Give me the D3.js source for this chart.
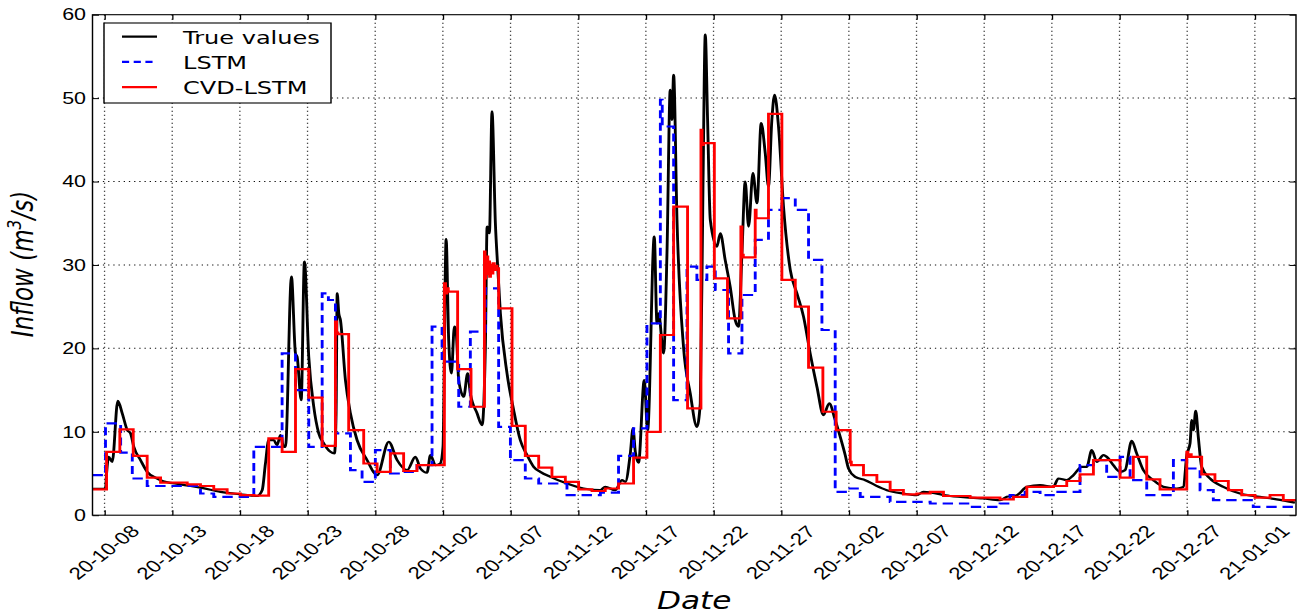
<!DOCTYPE html>
<html>
<head>
<meta charset="utf-8">
<script src="https://cdn.jsdelivr.net/npm/d3@7"></script>
<style>
  body { margin: 0; background: #fff; }
  svg { display: block; }
</style>
</head>
<body>
<svg id="chart"></svg>
<script>
// values: [day offset from 2020-10-07, inflow]
const trueSeries = [
  [0.11,3.15],[1.07,3.15],[1.15,5.0],[1.30,7.0],[1.57,6.4],[1.98,13.7],[2.31,12.2],[2.68,10.2],[2.92,9.8],[3.16,8.2],
  [3.66,6.6],[4.15,5.2],[4.89,4.4],[5.14,4.2],[6.61,3.7],[8.09,3.3],[9.57,2.8],[11.04,2.5],[12.28,2.3],[12.65,3.0],
  [12.89,6.2],[13.13,9.0],[13.50,9.0],[13.75,8.4],[14.00,9.6],[14.24,8.2],[14.37,8.2],[14.81,28.6],[15.11,19.4],[15.23,19.0],
  [15.53,13.8],[15.77,30.4],[16.09,19.0],[16.46,13.0],[16.83,9.8],[17.20,8.6],[17.69,7.6],[17.99,7.4],[18.11,12.2],[18.19,26.6],
  [18.31,24.2],[18.43,23.4],[18.80,16.2],[19.17,12.2],[19.66,9.0],[20.40,6.6],[21.14,4.8],[22.00,8.8],[22.62,6.6],[23.36,5.4],
  [23.97,7.0],[24.34,5.6],[24.83,5.1],[25.08,7.2],[25.45,6.0],[25.81,6.2],[26.01,8.2],[26.24,33.1],[26.43,21.0],[26.63,17.0],
  [26.85,22.6],[26.97,22.2],[27.17,16.2],[27.54,14.2],[27.83,17.0],[28.03,14.6],[28.53,12.2],[28.90,10.8],[29.14,20.2],[29.27,34.6],
  [29.44,33.8],[29.63,48.4],[29.88,35.0],[30.05,29.8],[30.25,24.2],[30.74,17.0],[31.23,12.6],[31.72,9.0],[32.22,7.2],[32.71,5.8],
  [33.20,5.2],[33.94,4.6],[35.17,3.8],[36.40,3.2],[37.63,3.0],[38.00,3.4],[38.74,3.0],[39.24,4.2],[39.48,4.0],[39.85,7.4],
  [40.05,10.4],[40.22,7.6],[40.46,6.3],[40.88,16.2],[41.13,10.2],[41.62,33.4],[41.82,23.0],[41.94,24.2],[42.31,19.4],[42.56,31.4],
  [42.80,51.0],[42.93,47.4],[43.05,52.8],[43.30,35.4],[43.78,20.2],[44.28,14.6],[44.77,10.6],[45.02,13.4],[45.22,39.4],[45.39,57.6],
  [45.56,47.4],[45.76,35.4],[46.25,32.2],[46.50,33.8],[46.86,30.6],[47.23,27.4],[47.60,23.4],[47.85,22.6],[48.10,31.4],[48.34,40.0],
  [48.59,34.6],[48.91,41.0],[49.21,37.4],[49.52,47.0],[49.82,43.4],[50.06,39.4],[50.31,47.4],[50.51,50.4],[50.80,46.6],[51.17,37.0],
  [51.67,29.4],[52.16,26.6],[52.65,23.8],[53.14,19.4],[53.64,15.4],[54.12,12.0],[54.55,13.4],[54.99,11.4],[55.36,9.4],[55.73,7.2],
  [55.97,5.6],[56.47,4.6],[57.21,4.2],[57.94,3.6],[58.81,3.0],[60.03,2.6],[61.02,2.4],[61.51,2.8],[63.48,2.3],[65.94,2.0],
  [67.17,1.8],[67.67,2.2],[68.41,2.4],[69.15,3.4],[70.13,3.6],[71.11,3.4],[71.48,4.4],[72.10,4.2],[72.59,4.8],[73.21,5.8],
  [73.58,5.8],[73.95,7.8],[74.32,6.4],[74.81,7.2],[75.18,6.8],[75.54,6.0],[76.04,5.2],[76.41,5.4],[76.90,8.9],[77.27,7.4],
  [77.76,5.4],[78.50,4.2],[79.24,3.4],[80.23,3.2],[80.72,3.4],[80.97,7.2],[81.21,8.6],[81.34,11.4],[81.46,10.2],[81.63,12.5],
  [81.82,9.4],[82.07,5.8],[82.68,4.4],[83.67,3.4],[84.90,2.6],[86.37,2.2],[87.61,1.9],[88.96,1.5]
];

// step series: [start day, value]
const lstmSteps = [
  [0.11,4.8],[1.07,11.0],[2.19,7.5],[3.05,4.4],[4.15,3.5],[8.09,2.6],[9.07,2.2],[12.03,8.2],[14.12,19.4],[15.11,15.0],
  [16.09,8.2],[17.08,26.6],[17.54,25.8],[18.06,9.8],[19.17,5.4],[20.03,4.0],[21.01,7.8],[22.12,5.0],[23.10,5.2],[24.09,6.0],
  [25.20,22.6],[25.94,18.4],[27.17,13.0],[28.03,22.0],[29.14,27.2],[30.12,10.6],[30.99,6.6],[32.09,4.4],[33.08,3.8],[35.17,2.4],
  [37.64,2.7],[38.98,7.1],[40.09,10.4],[41.08,23.0],[42.07,49.8],[42.21,46.6],[43.05,13.8],[44.04,29.8],[44.77,28.2],[45.51,29.8],
  [46.13,27.0],[47.11,19.4],[48.10,26.4],[49.08,33.0],[50.06,36.6],[51.05,38.0],[52.04,36.6],[53.02,30.6],[54.01,22.2],[54.99,2.8],
  [55.95,3.2],[56.84,2.2],[59.05,1.6],[62.01,1.4],[64.96,1.0],[67.17,1.4],[67.91,2.4],[69.02,2.8],[70.13,2.4],[71.11,2.8],
  [73.08,6.0],[74.07,6.6],[75.05,4.6],[76.04,7.0],[76.78,4.2],[78.01,2.4],[79.98,6.6],[80.97,5.6],[81.95,3.0],[82.93,1.8],
  [85.88,1.0],[89.04,1.0]
];

const cvdSteps = [
  [0.11,3.1],[1.15,7.6],[2.13,10.3],[3.12,7.1],[4.15,4.5],[5.14,3.9],[7.11,3.7],[8.09,3.5],[9.07,3.1],[10.06,2.6],
  [11.04,2.4],[12.03,2.35],[13.13,9.2],[14.12,7.6],[15.11,17.5],[16.09,14.1],[17.08,8.3],[18.06,23.2],[18.15,21.9],[18.25,21.7],
  [19.04,10.2],[20.15,6.2],[21.14,5.2],[22.12,7.4],[23.10,5.3],[24.09,6.0],[25.08,6.0],[26.11,27.8],[26.2,26.6],[26.3,27.2],
  [26.4,26.8],[27.09,17.5],[28.08,13.0],[29.07,31.6],[29.12,28.4],[29.17,30.8],[29.22,28.9],[29.27,31.0],[29.32,29.2],[29.38,30.4],
  [29.45,28.6],[29.52,30.0],[29.6,29.0],[29.7,30.2],[29.8,29.4],[29.9,29.9],[30.0,29.6],[30.12,24.8],[31.11,10.7],[32.09,7.1],
  [33.08,5.7],[34.06,4.6],[35.05,4.0],[36.03,3.1],[37.02,2.9],[38.00,3.2],[38.98,3.8],[40.09,6.9],[41.08,10.0],[42.07,21.6],
  [43.05,37.0],[44.08,12.8],[45.07,46.2],[45.15,44.4],[45.25,44.6],[46.06,28.4],[47.03,23.6],[48.02,34.6],[48.1,31.2],[48.2,30.9],
  [49.08,36.6],[49.15,35.6],[50.06,48.1],[51.05,28.2],[52.04,25.0],[53.02,17.7],[54.08,12.4],[55.06,10.2],[56.10,6.4],[56.18,6.0],
  [57.08,4.8],[58.07,4.0],[59.05,3.0],[60.03,2.5],[61.02,2.6],[62.01,2.8],[62.99,2.3],[64.96,2.1],[67.17,1.9],[68.16,2.2],
  [69.15,3.4],[71.11,3.5],[72.10,4.1],[73.08,4.9],[74.07,6.6],[76.04,4.5],[77.02,7.0],[78.01,4.3],[78.99,3.1],[80.97,7.6],
  [81.05,7.0],[81.15,7.3],[81.3,7.0],[82.07,4.9],[83.05,4.1],[84.04,3.0],[85.03,2.4],[86.01,2.1],[87.12,2.4],[88.10,1.8],
  [89.04,1.8]
];

const tickDates = ["2020-10-08","2020-10-13","2020-10-18","2020-10-23","2020-10-28","2020-11-02","2020-11-07",
  "2020-11-12","2020-11-17","2020-11-22","2020-11-27","2020-12-02","2020-12-07","2020-12-12","2020-12-17",
  "2020-12-22","2020-12-27","2021-01-01"];
const yTicks = [0, 10, 20, 30, 40, 50, 60];
const legendNames = ["True values", "LSTM", "CVD-LSTM"];

const W = 1304, H = 616;
const stretch = 1.3; // the original picture is widened horizontally
const plotLeft = 92.5 / stretch, plotRight = 1296 / stretch, plotTop = 14.7, plotBottom = 515.2;

const base = Date.UTC(2020, 9, 7);
const toDate = t => new Date(base + t * 864e5);
const parse = d3.utcParse("%Y-%m-%d");

const svg = d3.select("#chart").attr("width", W).attr("height", H);
svg.append("rect").attr("width", W).attr("height", H).attr("fill", "#fff");

const g = svg.append("g").attr("transform", `scale(${stretch},1)`)
  .style("font-family", "'DejaVu Sans', sans-serif");

const x = d3.scaleUtc().domain([toDate(0.11), toDate(89.04)]).range([plotLeft, plotRight]);
const y = d3.scaleLinear().domain([0, 60]).range([plotBottom, plotTop]);

// grid
const grid = g.append("g").attr("stroke", "#111").attr("stroke-width", 1).attr("stroke-dasharray", "1,3");
grid.selectAll(".gx").data(tickDates).join("line")
  .attr("x1", d => x(parse(d))).attr("x2", d => x(parse(d)))
  .attr("y1", plotTop).attr("y2", plotBottom);
grid.selectAll(".gy").data(yTicks.slice(1, -1)).join("line")
  .attr("x1", plotLeft).attr("x2", plotRight)
  .attr("y1", d => y(d)).attr("y2", d => y(d));

// series
g.append("clipPath").attr("id", "clip").append("rect")
  .attr("x", plotLeft).attr("y", plotTop).attr("width", plotRight - plotLeft).attr("height", plotBottom - plotTop);
const plot = g.append("g").attr("clip-path", "url(#clip)");

const stepLine = d3.line().curve(d3.curveStepAfter)
  .x(d => x(toDate(d[0]))).y(d => y(d[1]));
const smoothLine = d3.line().curve(d3.curveMonotoneX)
  .x(d => x(toDate(d[0]))).y(d => y(d[1]));

plot.append("path").datum(trueSeries)
  .attr("fill", "none").attr("stroke", "#000").attr("stroke-width", 2.2)
  .attr("stroke-linejoin", "round").attr("d", smoothLine);

plot.append("path").datum(lstmSteps)
  .attr("fill", "none").attr("stroke", "#0000ff").attr("stroke-width", 2.2)
  .attr("stroke-dasharray", "8,4.5").attr("d", stepLine);

plot.append("path").datum(cvdSteps)
  .attr("fill", "none").attr("stroke", "#ff0000").attr("stroke-width", 2.2)
  .attr("d", stepLine);

// axes
const yAxis = g.append("g").attr("transform", `translate(${plotLeft},0)`)
  .call(d3.axisLeft(y).tickValues(yTicks).tickSize(-5).tickPadding(5));
g.append("g").attr("transform", `translate(${plotRight},0)`)
  .call(d3.axisRight(y).tickValues(yTicks).tickSize(-5).tickFormat(""));
const xAxis = g.append("g").attr("transform", `translate(0,${plotBottom})`)
  .call(d3.axisBottom(x).tickValues(tickDates.map(parse)).tickSize(-5)
    .tickFormat(d3.utcFormat("%y-%m-%d")));
g.append("g").attr("transform", `translate(0,${plotTop})`)
  .call(d3.axisTop(x).tickValues(tickDates.map(parse)).tickSize(-5).tickFormat(""));

g.selectAll(".domain").remove();
g.selectAll(".tick line").attr("stroke", "#000");
yAxis.selectAll("text").attr("font-size", 16.5).attr("fill", "#000");
xAxis.selectAll("text")
  .attr("font-size", 17).attr("fill", "#000")
  .attr("y", 0).attr("dy", "0.35em")
  .attr("text-anchor", "middle")
  .attr("transform", "translate(-1,37) rotate(-45)");

// frame
g.append("rect").attr("x", plotLeft).attr("y", plotTop)
  .attr("width", plotRight - plotLeft).attr("height", plotBottom - plotTop)
  .attr("fill", "none").attr("stroke", "#000").attr("stroke-width", 1.1);

// axis titles
g.append("text")
  .attr("x", (plotLeft + plotRight) / 2).attr("y", 609)
  .attr("text-anchor", "middle").attr("font-size", 24).attr("font-style", "italic")
  .text("Date");

const yl = g.append("text")
  .attr("transform", `translate(${33 / stretch},264) rotate(-90)`)
  .attr("text-anchor", "middle").attr("font-size", 23).attr("font-style", "italic");
yl.append("tspan").text("Inflow (m");
yl.append("tspan").attr("font-size", 15.5).attr("dy", -9).text("3");
yl.append("tspan").attr("dy", 9).text("/s)");

// legend
const lg = g.append("g");
lg.append("rect")
  .attr("x", 104 / stretch).attr("y", 23)
  .attr("width", (331 - 104) / stretch).attr("height", 80)
  .attr("fill", "#fff").attr("stroke", "#000").attr("stroke-width", 1.1);
const legendStyle = [
  { color: "#000", dash: null },
  { color: "#0000ff", dash: "5.5,3.5" },
  { color: "#ff0000", dash: null }
];
legendNames.forEach((name, i) => {
  const cy = 36.7 + i * 25.2;
  lg.append("line")
    .attr("x1", 122 / stretch).attr("x2", 157 / stretch)
    .attr("y1", cy).attr("y2", cy)
    .attr("stroke", legendStyle[i].color).attr("stroke-width", 2.2)
    .attr("stroke-dasharray", legendStyle[i].dash);
  lg.append("text")
    .attr("x", 183 / stretch).attr("y", cy + 7)
    .attr("font-size", 18.5).attr("fill", "#000")
    .text(name);
});
</script>
</body>
</html>
